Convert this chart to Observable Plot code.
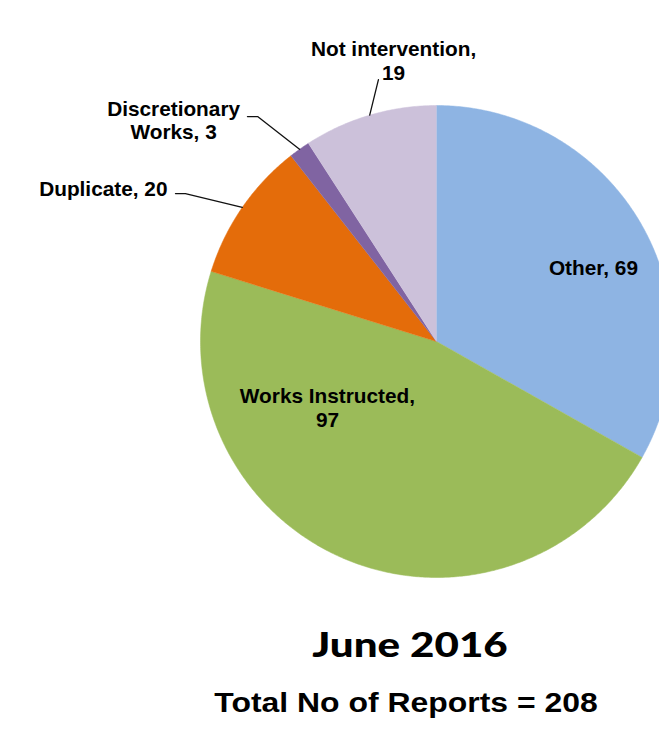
<!DOCTYPE html>
<html><head><meta charset="utf-8">
<script src="https://cdn.jsdelivr.net/npm/d3@7"></script>
<script src="https://cdn.jsdelivr.net/npm/@observablehq/plot@0.6"></script>
<style>
html,body{margin:0;padding:0;background:#fff;}
#wrap{position:relative;width:659px;height:729px;overflow:hidden;background:#fff;}
.t{position:absolute;text-align:center;white-space:nowrap;color:#000;font-weight:bold;transform-origin:center center;}
#title{left:110px;width:600px;top:627px;font-family:Lato,"Open Sans",sans-serif;font-weight:900;font-size:34.5px;line-height:34px;transform:scaleX(1.22);}
#sub{left:106px;width:600px;top:689px;font-family:"Liberation Sans",Arial,sans-serif;font-size:28px;line-height:28px;transform:scaleX(1.14);}
</style></head><body>
<div id="wrap"></div>
<script>
// ---- data ----
const categories = ["Other", "Works Instructed", "Duplicate", "Discretionary Works", "Not intervention"];
const counts = [69, 97, 20, 3, 19];
const sliceColors = ["#8EB4E3", "#9BBB59", "#E46C0A", "#8064A2", "#CCC1DA"];
const labelTexts = ["Other, 69", "Works Instructed,\n97", "Duplicate, 20", "Discretionary\nWorks, 3", "Not intervention,\n19"];
const titleText = "June 2016";
const subtitleText = "Total No of Reports = 208";

// ---- label layout (pie units: centre 0,0, radius 1) ----
const labelLayout = [
  {x: 0.665, y: 0.314, anchor: "middle"},
  {x: -0.462, y: -0.278, anchor: "middle"},
  {x: -1.140, y: 0.648, anchor: "end", leader: [[-1.106, 0.627], [-1.064, 0.627]]},
  {x: -1.114, y: 0.939, anchor: "middle", leader: [[-0.801, 0.953], [-0.758, 0.953]]},
  {x: -0.182, y: 1.19, anchor: "middle", leader: [[-0.246, 1.110]]}
];

// ---- geometry from values ----
const total = d3.sum(counts);
const slicePts = [];
const mids = [];
let acc = 0;
counts.forEach((v, i) => {
  const a0 = acc / total * 2 * Math.PI, a1 = (acc + v) / total * 2 * Math.PI;
  acc += v;
  mids.push((a0 + a1) / 2);
  slicePts.push({name: categories[i], x: 0, y: 0});
  const n = Math.max(2, Math.ceil((a1 - a0) / (Math.PI / 360)));
  for (let k = 0; k <= n; k++) {
    const a = a0 + (a1 - a0) * k / n;
    slicePts.push({name: categories[i], x: Math.sin(a), y: Math.cos(a)});
  }
});

const leaderPts = [];
labelLayout.forEach((l, i) => {
  if (!l.leader) return;
  l.leader.forEach(p => leaderPts.push({name: categories[i], x: p[0], y: p[1]}));
  leaderPts.push({name: categories[i], x: Math.sin(mids[i]), y: Math.cos(mids[i])});
});

const labels = labelLayout.map((l, i) => ({text: labelTexts[i], x: l.x, y: l.y, anchor: l.anchor}));

const textOpts = {x: "x", y: "y", text: "text", fontFamily: "'Liberation Sans', Arial, sans-serif",
  fontWeight: "bold", fontSize: 20.8, lineHeight: 1.14, lineAnchor: "middle", fill: "black"};

const chart = Plot.plot({
  width: 659, height: 610, margin: 0,
  x: {domain: [-1, 1], range: [200, 672], axis: null},
  y: {domain: [-1, 1], range: [577, 105], axis: null},
  color: {domain: categories, range: sliceColors},
  style: {overflow: "hidden", background: "white"},
  marks: [
    Plot.line(slicePts, {x: "x", y: "y", z: "name", fill: "name", stroke: "name", strokeWidth: 0.5, curve: "linear"}),
    Plot.line(leaderPts, {x: "x", y: "y", z: "name", stroke: "#111", strokeWidth: 1.3, curve: "linear"}),
    Plot.text(labels.filter(d => d.anchor === "middle"), {...textOpts, textAnchor: "middle"}),
    Plot.text(labels.filter(d => d.anchor === "end"), {...textOpts, textAnchor: "end"})
  ]
});

const wrap = document.getElementById("wrap");
wrap.appendChild(chart);
const t = document.createElement("div"); t.className = "t"; t.id = "title"; t.textContent = titleText; wrap.appendChild(t);
const s = document.createElement("div"); s.className = "t"; s.id = "sub"; s.textContent = subtitleText; wrap.appendChild(s);
</script>
</body></html>
